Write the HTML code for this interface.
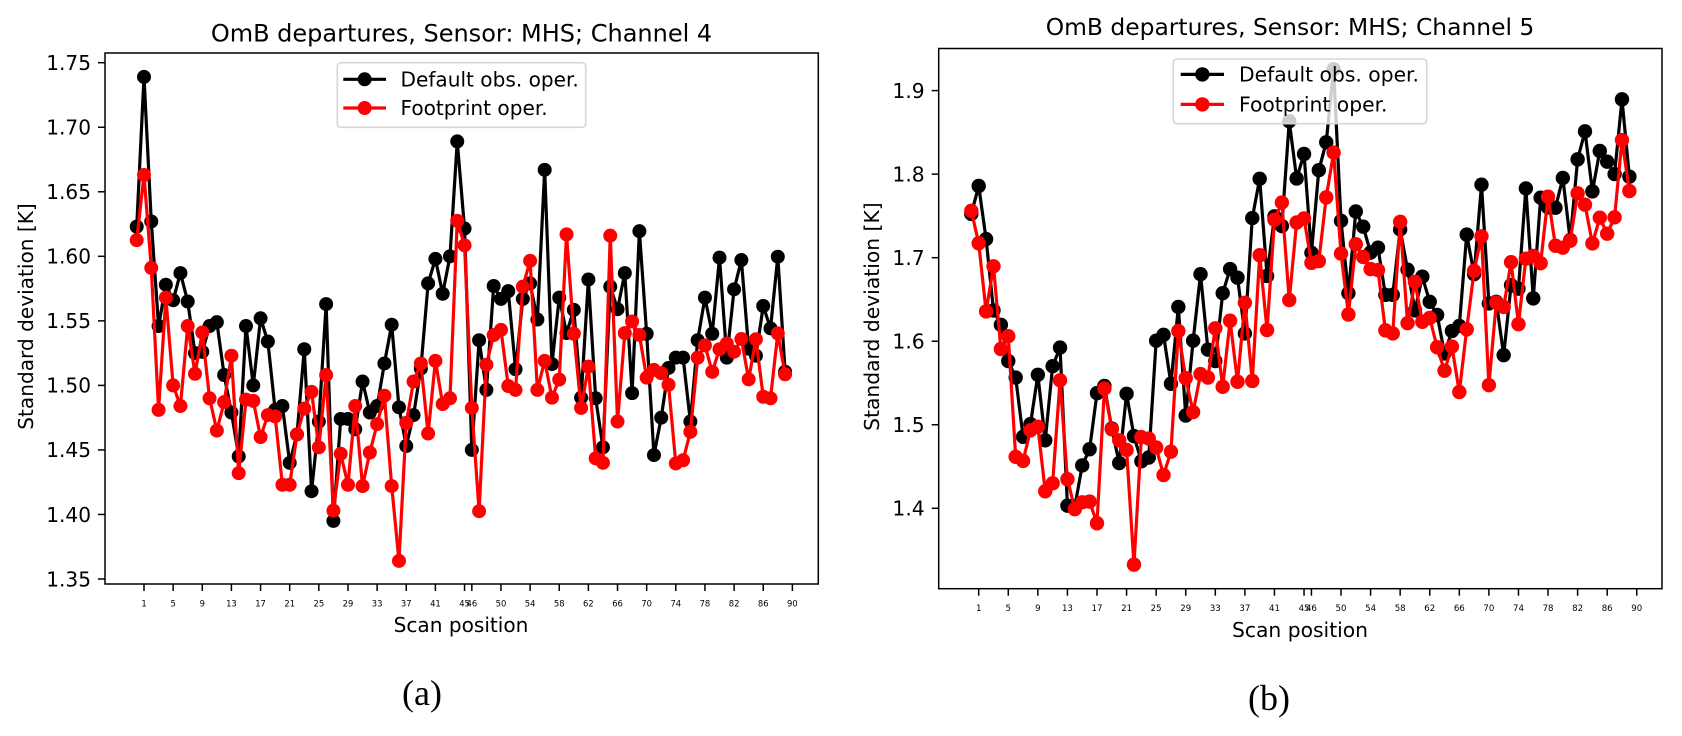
<!DOCTYPE html>
<html lang="en">
<head>
<meta charset="utf-8">
<title>OmB departures, Sensor: MHS; Channels 4 and 5</title>
<style>
html,body{margin:0;padding:0;background:#fff;width:1682px;height:736px;overflow:hidden}
svg{display:block;font-family:"DejaVu Sans","Liberation Sans",sans-serif;fill:#000}
</style>
</head>
<body>
<svg id="figure" xmlns="http://www.w3.org/2000/svg" width="1682" height="736" viewBox="0 0 1682 736">
  <g id="panel-a"></g>
  <g id="panel-b"></g>
  <text x="422" y="705" text-anchor="middle" style="font-family:'Liberation Serif',serif;font-size:36px">(a)</text>
  <text x="1269" y="710" text-anchor="middle" style="font-family:'Liberation Serif',serif;font-size:36px">(b)</text>
</svg>
<script>
// ---- chart data ----
const xTickLabels = [1,5,9,13,17,21,25,29,33,37,41,45,46,50,54,58,62,66,70,74,78,82,86,90];
const yTickLabels4 = ["1.35","1.40","1.45","1.50","1.55","1.60","1.65","1.70","1.75"];
const yTickLabels5 = ["1.4","1.5","1.6","1.7","1.8","1.9"];
const seriesNames = ["Default obs. oper.","Footprint oper."];

const defaultChannel4 = [
1.623,1.739,1.627,1.546,1.578,1.566,1.587,1.565,1.525,1.526,
1.546,1.549,1.508,1.479,1.445,1.546,1.500,1.552,1.534,1.481,
1.484,1.440,1.462,1.528,1.418,1.472,1.563,1.395,1.474,1.474,
1.466,1.503,1.479,1.484,1.517,1.547,1.483,1.453,1.477,1.513,
1.579,1.598,1.571,1.600,1.689,1.6215,1.450,1.535,1.4965,1.577,
1.567,1.573,1.5125,1.567,1.579,1.551,1.667,1.5165,1.568,1.5405,
1.5585,1.4905,1.582,1.490,1.452,1.5765,1.559,1.587,1.494,1.6195,
1.540,1.446,1.475,1.5135,1.5215,1.5215,1.472,1.535,1.568,1.540,
1.599,1.5215,1.5744,1.5971,1.5284,1.523,1.5615,1.5442,1.5997,1.5106];

const footprintChannel4 = [
1.6125,1.663,1.591,1.481,1.568,1.500,1.484,1.546,1.509,1.541,
1.490,1.465,1.487,1.523,1.432,1.489,1.488,1.460,1.477,1.476,
1.423,1.423,1.462,1.482,1.495,1.452,1.508,1.403,1.447,1.423,
1.484,1.422,1.448,1.470,1.492,1.422,1.364,1.471,1.503,1.517,
1.4627,1.519,1.4855,1.490,1.6275,1.6085,1.4825,1.4025,1.516,1.539,
1.543,1.4995,1.4965,1.5765,1.5965,1.4965,1.519,1.4905,1.5045,1.617,
1.540,1.4825,1.5145,1.4435,1.440,1.616,1.472,1.5405,1.5495,1.539,
1.506,1.512,1.5095,1.5005,1.4395,1.442,1.464,1.5215,1.531,1.5105,
1.528,1.5325,1.5261,1.5359,1.5047,1.5357,1.4912,1.490,1.5403,1.5086];

const defaultChannel5 = [
1.7524,1.7858,1.7223,1.6369,1.6196,1.5763,1.5565,1.4856,1.5008,1.5598,
1.4814,1.5701,1.5924,1.4031,1.402,1.4513,1.4707,1.5379,1.5465,1.4955,
1.4542,1.5371,1.4864,1.4563,1.4608,1.6006,1.6076,1.5491,1.6410,1.5111,
1.6006,1.6802,1.5899,1.5763,1.6575,1.6864,1.6761,1.6093,1.7474,1.7944,
1.6781,1.7495,1.7379,1.8633,1.7948,1.8241,1.7058,1.8047,1.8381,1.9256,
1.7441,1.6575,1.7553,1.7371,1.7062,1.7120,1.6555,1.6555,1.7338,1.6856,
1.6369,1.6773,1.6472,1.6315,1.5854,1.6122,1.6183,1.7276,1.6802,1.7874,
1.6452,1.6472,1.5833,1.6670,1.6629,1.7829,1.6513,1.7718,1.7602,1.7598,
1.7954,1.7211,1.8177,1.8512,1.7794,1.8277,1.8149,1.8001,1.8895,1.7970];

const footprintChannel5 = [
1.7561,1.7173,1.6357,1.6897,1.5907,1.6060,1.4616,1.4567,1.4934,1.4975,
1.4204,1.4299,1.5532,1.4348,1.3990,1.4072,1.4080,1.3821,1.5433,1.4946,
1.4814,1.4699,1.3326,1.4852,1.4835,1.4728,1.4398,1.4678,1.6122,1.5557,
1.5152,1.5606,1.5565,1.6155,1.5454,1.6245,1.5515,1.6460,1.5524,1.7029,
1.6134,1.7454,1.7660,1.6493,1.7421,1.7470,1.6938,1.6959,1.7722,1.8258,
1.7049,1.6320,1.7161,1.7008,1.6864,1.6852,1.6130,1.6093,1.7429,1.6216,
1.6711,1.6233,1.6278,1.5928,1.5647,1.5936,1.5392,1.6142,1.6843,1.7256,
1.5474,1.6464,1.6410,1.6946,1.6204,1.6988,1.7021,1.6934,1.7730,1.7143,
1.7120,1.7203,1.7770,1.7634,1.7171,1.7479,1.7287,1.7483,1.8408,1.7798];

// ---- drawing ----
const NS = 'http://www.w3.org/2000/svg';
function make(parent, tag, attrs, text) {
  const el = document.createElementNS(NS, tag);
  for (const k in attrs) el.setAttribute(k, attrs[k]);
  if (text !== undefined) el.textContent = text;
  parent.appendChild(el);
  return el;
}

function drawPanel(cfg) {
  const g = document.getElementById(cfg.id);
  const xOf = t => cfg.x1 + (t - 1) * cfg.xStep;
  const yOf = v => cfg.yRef + (cfg.vRef - v) * cfg.yScale;

  const title = make(g, 'text', {x: cfg.titleX, y: cfg.titleY, 'text-anchor': 'middle', 'font-size': cfg.titleSize}, cfg.title);
  
  

  const xAxis = make(g, 'g', {});
  
  
  xTickLabels.forEach(t => {
    const px = xOf(t);
    const tick = make(xAxis, 'line', {x1: px, x2: px, y1: cfg.bottom, y2: cfg.bottom + 7, stroke: '#000', 'stroke-width': 1.5});
    
    
    const label = make(xAxis, 'text', {x: px, y: cfg.xTickBase, 'text-anchor': 'middle', 'font-size': cfg.xTickSize}, String(t));
    
    
  });
  const xTitle = make(xAxis, 'text', {x: cfg.xTitleX, y: cfg.xTitleBase, 'text-anchor': 'middle', 'font-size': cfg.fontSize}, 'Scan position');
  
  

  const yAxis = make(g, 'g', {});
  
  
  cfg.yTicks.forEach(s => {
    const py = yOf(parseFloat(s));
    const tick = make(yAxis, 'line', {x1: cfg.left - 7, x2: cfg.left, y1: py, y2: py, stroke: '#000', 'stroke-width': 1.5});
    
    
    const label = make(yAxis, 'text', {x: cfg.left - 14, y: py + 7.3, 'text-anchor': 'end', 'font-size': cfg.fontSize}, s);
    
    
  });
  const cy = (cfg.top + cfg.bottom) / 2 - 2;
  const yTitle = make(yAxis, 'text', {x: cfg.yTitleX, y: cy, 'text-anchor': 'middle', 'font-size': cfg.fontSize, transform: 'rotate(-90 ' + cfg.yTitleX + ' ' + cy + ')'}, 'Standard deviation [K]');
  
  

  const colors = ['#000000', '#ff0000'];
  cfg.series.forEach((values, s) => {
    const sg = make(g, 'g', {});
    
    
    const pts = values.map((v, i) => xOf(i).toFixed(2) + ',' + yOf(v).toFixed(2)).join(' ');
    const line = make(sg, 'polyline', {points: pts, fill: 'none', stroke: colors[s], 'stroke-width': 3.2, 'stroke-linejoin': 'round'});
    
    
    values.forEach((v, i) => {
      const c = make(sg, 'circle', {cx: xOf(i), cy: yOf(v), r: cfg.markerR, fill: colors[s]});
      
      
    });
  });

  const frame = make(g, 'rect', {x: cfg.left, y: cfg.top, width: cfg.right - cfg.left, height: cfg.bottom - cfg.top, fill: 'none', stroke: '#000', 'stroke-width': 1.5});
  
  

  const L = cfg.legend;
  const lg = make(g, 'g', {});
  
  
  make(lg, 'rect', {x: L.x, y: L.y, width: L.w, height: L.h, rx: 3.5, ry: 3.5, fill: 'rgba(255,255,255,0.8)', stroke: '#d6d6d6', 'stroke-width': 1.6});
  seriesNames.forEach((name, s) => {
    const entry = make(lg, 'g', {});
    
    
    make(entry, 'line', {x1: L.lineX1, x2: L.lineX2, y1: L.rows[s], y2: L.rows[s], stroke: colors[s], 'stroke-width': 3.2});
    make(entry, 'circle', {cx: (L.lineX1 + L.lineX2) / 2, cy: L.rows[s], r: cfg.markerR, fill: colors[s]});
    make(entry, 'text', {x: L.textX, y: L.rows[s] + 7, 'font-size': cfg.fontSize}, name);
  });
}

drawPanel({
  id: 'panel-a', title: 'OmB departures, Sensor: MHS; Channel 4',
  left: 105, right: 818.3, top: 53, bottom: 584,
  x1: 144, xStep: 7.285, vRef: 1.75, yRef: 62.7, yScale: 1290.75,
  titleX: 461.5, titleY: 41.5, titleSize: 24, fontSize: 20.1, xTickSize: 8.4, markerR: 7,
  xTickBase: 606.5, xTitleX: 461, xTitleBase: 632, yTitleX: 33,
  yTicks: yTickLabels4, series: [defaultChannel4, footprintChannel4],
  legend: {x: 337.3, y: 62.7, w: 248.4, h: 64.6, lineX1: 343.3, lineX2: 386, textX: 400.5, rows: [79.3, 108]}
});

drawPanel({
  id: 'panel-b', title: 'OmB departures, Sensor: MHS; Channel 5',
  left: 938.7, right: 1662, top: 48.5, bottom: 588.7,
  x1: 978.7, xStep: 7.394, vRef: 1.9, yRef: 90.6, yScale: 835.4,
  titleX: 1290, titleY: 35, titleSize: 23.4, fontSize: 20.3, xTickSize: 8.6, markerR: 7.2,
  xTickBase: 611, xTitleX: 1300, xTitleBase: 637, yTitleX: 879,
  yTicks: yTickLabels5, series: [defaultChannel5, footprintChannel5],
  legend: {x: 1173.3, y: 59, w: 253.4, h: 64.7, lineX1: 1180.7, lineX2: 1224, textX: 1239, rows: [74.4, 104.4]}
});
</script>
</body>
</html>
